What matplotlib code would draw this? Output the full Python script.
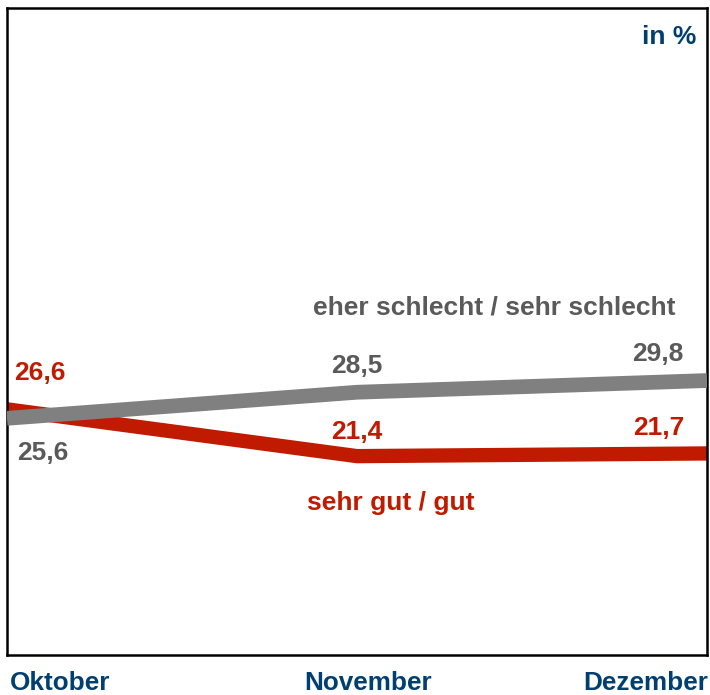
import matplotlib
matplotlib.use("Agg")
import matplotlib.pyplot as plt

months = ["Oktober", "November", "Dezember"]
gut = [26.6, 21.4, 21.7]
schlecht = [25.6, 28.5, 29.8]
gut_labels = ["26,6", "21,4", "21,7"]
schlecht_labels = ["25,6", "28,5", "29,8"]

plt.rcParams['font.family'] = ['Liberation Sans', 'DejaVu Sans']
RED = "#C01B00"
GRAY = "#808080"
GRAYTXT = "#5A5A5A"
BLUE = "#003F72"

fig = plt.figure(figsize=(7.1, 6.95), dpi=100)
ax = fig.add_axes([7/710, 40/695, 700/710, 647/695])
x = list(range(len(months)))
ax.plot(x, gut, color=RED, lw=10.3, solid_capstyle='butt', zorder=2)
ax.plot(x, schlecht, color=GRAY, lw=10.6, solid_capstyle='butt', zorder=3)
ax.set_xlim(0, 2)
ax.set_ylim(-0.7, 71.2)
ax.set_yticks([])
ax.set_xticks([])
for s in ax.spines.values():
    s.set_linewidth(1.8)
    s.set_color("black")

fs = 19
kw = dict(fontsize=fs, fontweight='bold', va='center')
# value labels
ax.text(0.02, 30.68, gut_labels[0], color=RED, ha='left', **kw)
ax.text(0.029, 21.79, schlecht_labels[0], color=GRAYTXT, ha='left', **kw)
ax.text(1.0, 31.4, schlecht_labels[1], color=GRAYTXT, ha='center', **kw)
ax.text(1.0, 24.12, gut_labels[1], color=RED, ha='center', **kw)
ax.text(1.934, 32.73, schlecht_labels[2], color=GRAYTXT, ha='right', **kw)
ax.text(1.934, 24.51, gut_labels[2], color=RED, ha='right', **kw)

ax.text(1.391, 37.96, "eher schlecht / sehr schlecht", color=GRAYTXT, ha='center', **kw)
ax.text(1.097, 16.18, "sehr gut / gut", color=RED, ha='center', **kw)
ax.text(0.985, 0.955, "in %", color=BLUE, fontsize=fs, fontweight='bold', ha='right', va='center', transform=ax.transAxes)

# month labels
fig.text(10/710, 12/695, months[0], color=BLUE, fontsize=18.8, fontweight='bold', ha='left', va='center')
fig.text(368/710, 12/695, months[1], color=BLUE, fontsize=18.8, fontweight='bold', ha='center', va='center')
fig.text(708/710, 12/695, months[2], color=BLUE, fontsize=18.8, fontweight='bold', ha='right', va='center')

fig.savefig("out.png", dpi=100)
